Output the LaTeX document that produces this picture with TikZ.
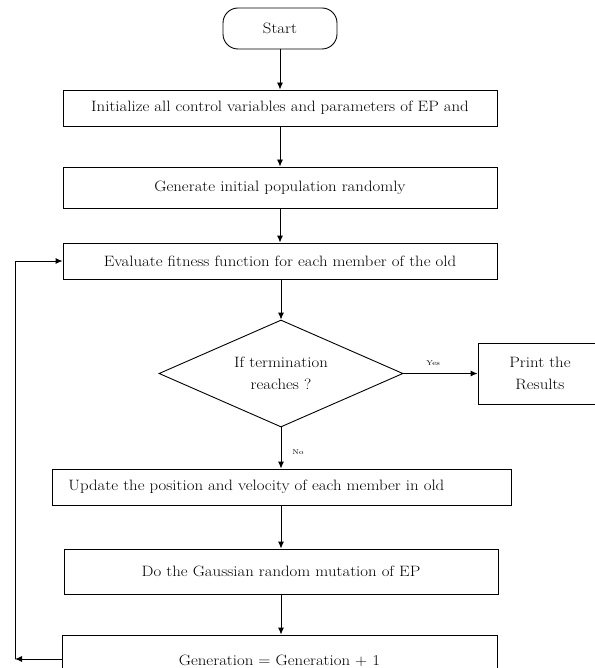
\documentclass[tikz,border=0pt]{standalone}
\usepackage{fontspec}
\setmainfont{Latin Modern Roman}[FakeStretch=1.12]
\usepackage{tikz}
\usetikzlibrary{shapes.geometric,arrows.meta}

\begin{document}
\begin{tikzpicture}[x=1pt,y=-1pt,line cap=round,line width=0.9pt,
  >={Latex[length=7pt,width=6pt]},
  box/.style={draw,rectangle,minimum width=434pt,minimum height=36pt,
    inner sep=0pt,font=\fontsize{15}{18}\selectfont},
  lbl/.style={font=\fontsize{7}{8}\selectfont,inner sep=0pt}]
  \useasboundingbox (0,0) rectangle (594,668);

  % start and first steps
  \node[box,rounded corners=15pt,minimum width=114pt,minimum height=41pt]
    (start) at (280,28.5) {Start};
  \node[box] (init) at (280,108) {Initialize all control variables and parameters of EP and};
  \node[box,minimum height=41pt] (gen0) at (280,187.5) {Generate initial population randomly};
  \node[box] (eval) at (280,261) {Evaluate fitness function for each member of the old};

  % decision
  \node[draw,diamond,aspect=2.28,minimum width=244pt,minimum height=107pt,inner sep=0pt,
    align=center,font=\fontsize{15}{22}\selectfont]
    (stop) at (281,373.5) {If termination\\reaches ?};
  \node[box,minimum width=124pt,minimum height=61pt,align=center,
    font=\fontsize{15}{22}\selectfont] (print) at (540,373.5) {Print the\\Results};

  % loop body
  \node[box,minimum width=459pt] (upd) at (281.5,487) {};
  \node[anchor=west,inner sep=0pt,font=\fontsize{15}{18}\selectfont]
    (updtxt) at (68,487) {Update the position and velocity of each member in old};
  \node[box,minimum height=45pt] (mut) at (281,571.5) {Do the Gaussian random mutation of EP};
  \node[box,minimum width=435pt,minimum height=52pt] (next) at (279.5,661) {Generation = Generation + 1};

  % arrows down the chart
  \draw[->] (start) -- (init);
  \draw[->] (init) -- (gen0);
  \draw[->] (gen0) -- (eval);
  \draw[->] (eval.south -| stop.north) -- (stop.north);
  \draw[->] (stop.south) -- (stop.south |- upd.north);
  \draw[->] (upd.south -| mut.north) -- (mut.north);
  \draw[->] (mut.south) -- (mut.south |- next.north);

  % yes / no
  \draw[->] (stop.east) -- (print.west) node[lbl,pos=0.4,above=7pt] (yes) {Yes};
  \node[lbl] (no) at (298,452) {No};

  % back to evaluation
  \coordinate (back) at (15,659);
  \draw[->] (next.west |- back) -- (back);
  \draw[->] (back) |- (eval.west);
\end{tikzpicture}
\end{document}
